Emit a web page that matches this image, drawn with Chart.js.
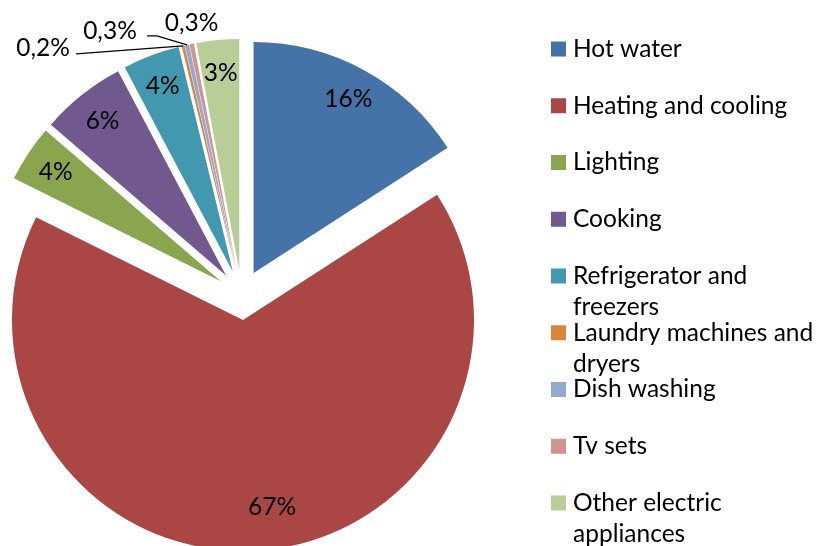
<!DOCTYPE html>
<html><head><meta charset="utf-8">
<script src="https://cdn.jsdelivr.net/npm/chart.js@4/dist/chart.umd.min.js"></script>
<style>html,body{margin:0;padding:0;background:#fff;overflow:hidden}#wrap{width:816px;height:546px;position:relative}</style>
</head><body><div id="wrap"><canvas id="c" width="816" height="546"></canvas></div>
<script>
const categories = ['Hot water','Heating and cooling','Lighting','Cooking','Refrigerator and freezers','Laundry machines and dryers','Dish washing','Tv sets','Other electric appliances'];
const values = [16, 67, 4, 6, 4, 0.2, 0.3, 0.3, 3];
const valueLabels = ['16%','67%','4%','6%','4%','0,2%','0,3%','0,3%','3%'];
const colors = ['#4572A7','#AA4643','#89A54E','#71588F','#4198AF','#DB843D','#93A9CF','#D19392','#B9CD96'];

const FONT = '24.5px Lato';
const EXPLODE = 25;
const LABEL_R = 198;

function dirOf(arc){const m=(arc.startAngle+arc.endAngle)/2;return [Math.cos(m),Math.sin(m)];}

const explodePlugin = {
  id:'explode',
  beforeDatasetDraw(chart,args){
    const ctx=chart.ctx;
    args.meta.data.forEach(arc=>{
      const [dx,dy]=dirOf(arc);
      ctx.save();ctx.translate(dx*EXPLODE,dy*EXPLODE);arc.draw(ctx);ctx.restore();
    });
    return false;
  }
};

const labelPlugin = {
  id:'pieLabels',
  afterDatasetsDraw(chart){
    const ctx=chart.ctx;
    const meta=chart.getDatasetMeta(0);
    ctx.save();
    ctx.font=FONT;ctx.fillStyle='#000';ctx.textAlign='center';ctx.textBaseline='middle';
    ctx.strokeStyle='#000';ctx.lineWidth=1.2;
    meta.data.forEach((arc,i)=>{
      const [dx,dy]=dirOf(arc);
      const ax=arc.x+dx*EXPLODE, ay=arc.y+dy*EXPLODE;
      const ox=ax+dx*arc.outerRadius, oy=ay+dy*arc.outerRadius;
      if(i===5){
        ctx.beginPath();ctx.moveTo(ox-107,oy+8);ctx.lineTo(ox,oy);ctx.stroke();
        ctx.fillText(valueLabels[i],ox-140,oy+2);
      } else if(i===6){
        ctx.beginPath();ctx.moveTo(ox-40,oy-9);ctx.lineTo(ox-30,oy-9);ctx.lineTo(ox,oy);ctx.stroke();
        ctx.fillText(valueLabels[i],ox-77,oy-14);
      } else if(i===7){
        ctx.fillText(valueLabels[i],ox,oy-21);
      } else {
        let lx=ax+dx*LABEL_R, ly=ay+dy*LABEL_R;
        if(i===1){lx+=18;ly-=11;}
        ctx.fillText(valueLabels[i],lx,ly);
      }
    });
    ctx.restore();
  }
};

const legendPlugin = {
  id:'sideLegend',
  afterDraw(chart){
    const ctx=chart.ctx;
    ctx.save();
    ctx.font=FONT;ctx.textAlign='left';ctx.textBaseline='middle';
    const sx=551, tx=573, maxW=248, y0=49, step=56.75, lh=31, box=15;
    categories.forEach((cat,i)=>{
      const y=y0+i*step;
      ctx.fillStyle=colors[i];
      ctx.fillRect(sx,y-box/2,box,box);
      ctx.fillStyle='#000';
      const words=cat.split(' ');let line='';let ly=y;
      words.forEach(w=>{
        const t=line?line+' '+w:w;
        if(ctx.measureText(t).width>maxW && line){ctx.fillText(line,tx,ly);ly+=lh;line=w;}
        else line=t;
      });
      ctx.fillText(line,tx,ly);
    });
    ctx.restore();
  }
};

new Chart(document.getElementById('c'),{
  type:'pie',
  data:{labels:categories,datasets:[{data:values,backgroundColor:colors,borderWidth:0,radius:231,offset:0}]},
  options:{
    responsive:false,animation:false,devicePixelRatio:1,
    layout:{padding:{left:0,right:332.8,top:44,bottom:0}},
    plugins:{legend:{display:false},tooltip:{enabled:false}}
  },
  plugins:[explodePlugin,labelPlugin,legendPlugin]
});
</script></body></html>
